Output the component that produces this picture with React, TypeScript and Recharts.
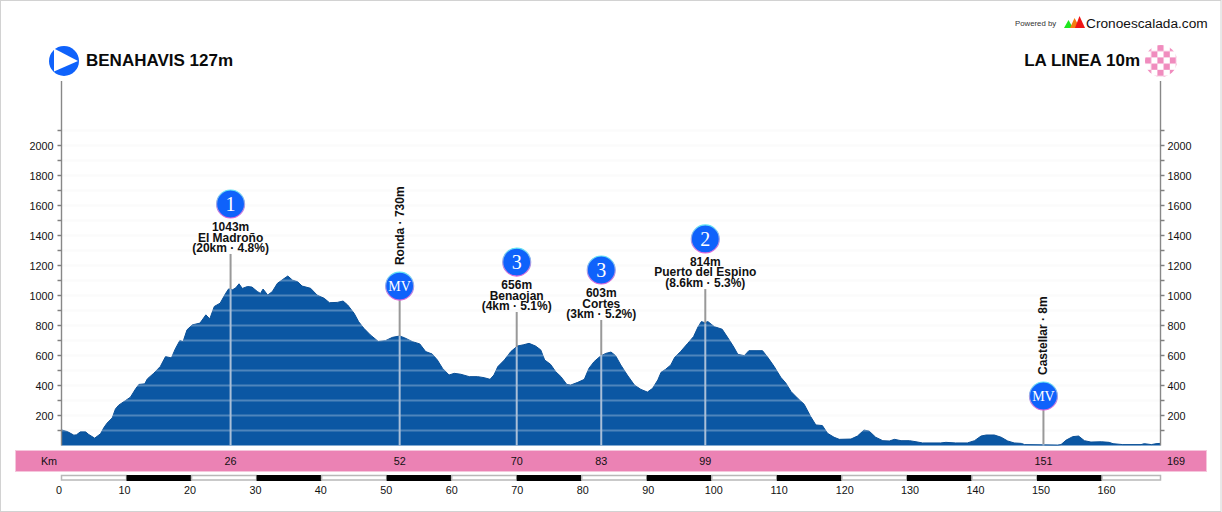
import React from 'react';
import {Area, ComposedChart, CartesianGrid, ReferenceDot, ReferenceLine, XAxis, YAxis} from 'recharts';

// profile
const profileKm = [
  0, 0.9, 1.9, 2.3, 2.9, 3.7, 4.2, 5.1, 6, 6.5, 7, 7.8, 8.3, 8.8, 9.85, 10.6, 11.4, 11.9, 12.8, 13.2,
  14.2, 15.2, 16, 16.9, 17.5, 18.2, 18.7, 19.3, 20.1, 21.3, 22.2, 22.8, 23.5, 24.4, 25.2, 25.7, 26.3, 26.8, 27.3, 27.8,
  28.6, 29.3, 30.1, 30.6, 31, 31.7, 32.4, 33.2, 33.9, 34.8, 35.5, 36.3, 37, 38.3, 39.3, 40.4, 41.2, 42.4, 43.3, 44,
  45, 45.7, 46.5, 47.5, 48.7, 49.8, 50.9, 52, 52.7, 54, 55.1, 56, 57, 57.8, 58.6, 59.6, 60.4, 61.4, 62.7, 64,
  65, 65.9, 66.5, 67.1, 68.1, 69.1, 70.1, 71.1, 71.9, 72.9, 73.7, 74.3, 75.2, 76, 76.8, 77.7, 78.3, 79.4, 80.4, 81.1,
  81.9, 82.9, 83.7, 84.5, 85.2, 86, 87, 88.1, 89.1, 90.1, 90.9, 91.7, 92.2, 92.9, 93.7, 94.3, 95.2, 96.3, 97.2, 97.9,
  98.4, 98.9, 99.4, 100.4, 101.6, 102.7, 103.4, 104, 105, 105.7, 106.8, 107.8, 108.6, 109.6, 110.6, 111.4, 112.2, 113.2, 114.2, 115.2,
  116, 117, 117.8, 118.8, 119.6, 121.4, 122.4, 123.4, 124.2, 125.2, 126.3, 127.3, 128.1, 129.1, 130.4, 131.4, 132.4, 135.2, 136, 137.5,
  139.3, 140.4, 141.4, 142.2, 143.45, 144.5, 145.5, 146.5, 147.6, 148.1, 153.2, 153.7, 154.5, 155.5, 156.4, 157.3, 158.3, 159.9, 161.1, 161.7,
  163.2, 166, 166.5, 167.6, 168.3, 169,
];
const profileElevation = [
  104, 93, 69, 71, 91, 91, 73, 49, 78, 118, 149, 184, 244, 269, 300, 322, 378, 407, 411, 444,
  482, 527, 593, 584, 644, 700, 693, 771, 804, 816, 871, 844, 927, 949, 1011, 1044, 1038, 1051, 1078, 1047,
  1060, 1056, 1027, 1014, 1043, 1003, 1025, 1081, 1103, 1130, 1103, 1092, 1063, 1048, 1003, 981, 952, 954, 963, 937,
  881, 825, 781, 737, 694, 699, 721, 730, 719, 692, 677, 626, 610, 570, 514, 470, 481, 475, 459, 459,
  452, 441, 470, 526, 570, 626, 663, 672, 681, 663, 637, 570, 541, 492, 459, 407, 403, 421, 441, 514,
  559, 597, 614, 623, 599, 537, 470, 403, 374, 356, 381, 437, 488, 508, 537, 588, 626, 681, 726, 792,
  826, 819, 826, 792, 775, 703, 655, 608, 599, 632, 632, 632, 588, 526, 455, 415, 359, 315, 275, 193,
  137, 133, 81, 55, 41, 43, 63, 103, 96, 55, 32, 30, 41, 32, 32, 25, 17, 17, 21, 17,
  17, 32, 63, 70, 70, 55, 30, 17, 14, 6, 3, 6, 36, 59, 63, 32, 23, 25, 21, 12,
  6, 6, 12, 6, 12, 14,
];
const data = profileKm.map((km, i) => ({km, elevation: profileElevation[i]}));

const elevationTicks = [100, 200, 300, 400, 500, 600, 700, 800, 900, 1000, 1100, 1200, 1300, 1400, 1500, 1600, 1700, 1800, 1900, 2000, 2100];
const distanceTicks = [0, 10, 20, 30, 40, 50, 60, 70, 80, 90, 100, 110, 120, 130, 140, 150, 160];
const passKm = [26, 52, 70, 83, 99, 151];
const passElevation = [1043, 730, 656, 603, 814, 8];
const passBadge = ['1', 'MV', '3', '3', '2', 'MV'];
const passNames = ['El Madroño', 'Ronda', 'Benaojan', 'Cortes', 'Puerto del Espino', 'Castellar'];
const passClimbs = ['(20km · 4.8%)', '', '(4km · 5.1%)', '(3km · 5.2%)', '(8.6km · 5.3%)', ''];

// where the badge and the top of each stem sit, in chart units
const badgeLevel = [1610, 1063, 1223, 1170, 1377, 330];
const stemTop = [1277, 1063, 890, 837, 1043, 330];

const FONT = '"Liberation Sans", Arial, sans-serif';
const SERIF = '"Liberation Serif", "Times New Roman", serif';
const KM_PX = 1099 / 169;
const TICK_FONT = 10.8;

const LeftTick = ({x, y, payload}: any) =>
  payload.value % 200 === 0 && payload.value <= 2000 ? (
    <text x={x - 2} y={y + 4} textAnchor="end" fontSize={TICK_FONT} fontFamily={FONT} fill="#111">{payload.value}</text>
  ) : <g />;

const RightTick = ({x, y, payload}: any) =>
  payload.value % 200 === 0 && payload.value <= 2000 ? (
    <text x={x + 1} y={y + 4} textAnchor="start" fontSize={TICK_FONT} fontFamily={FONT} fill="#111">{payload.value}</text>
  ) : <g />;

const BandTick = ({x, payload}: any) => (
  <text x={payload.value === 169 ? x + 15.5 : x} y={465} textAnchor="middle" fontSize={TICK_FONT} fontFamily={FONT} fill="#111">
    {payload.value}
  </text>
);

// the scale bar under the band: one block per tick
const ScaleTick = ({x, payload}: any) => {
  const km = payload.value;
  const black = km % 20 === 10;
  const width = (km === 160 ? 9 : 10) * KM_PX;
  return (
    <g>
      {black
        ? <rect x={x} y={475} width={width} height={6} fill="#000" />
        : <rect x={x} y={475.5} width={width} height={4.5} fill="#fff" stroke="#b8b8b8" strokeWidth={1.5} />}
      <text x={x - 2.5 + km * 0.044} y={494} textAnchor="middle" fontSize={TICK_FONT} fontFamily={FONT} fill="#111">{km}</text>
    </g>
  );
};

const Badge = ({cx, cy, index}: any) => {
  const isSprint = passBadge[index] === 'MV';
  return (
    <g>
      <circle cx={cx} cy={cy} r={14} fill="#0f62fb" stroke="url(#badgeRing)" strokeWidth={1.2} />
      <text x={cx} y={cy + (isSprint ? 5 : 7)} textAnchor="middle" fontFamily={SERIF} fontSize={isSprint ? 14 : 20} fill="#fff">
        {passBadge[index]}
      </text>
      {isSprint ? (
        <text
          transform={`translate(${cx + 4} ${cy - 21}) rotate(-90)`}
          fontFamily={FONT} fontWeight="bold" fontSize={12} fill="#111"
        >
          {`${passNames[index]} · ${passElevation[index]}m`}
        </text>
      ) : (
        <text textAnchor="middle" fontFamily={FONT} fontWeight="bold" fontSize={12} fill="#111">
          <tspan x={cx} y={cy + 27}>{passElevation[index]}m</tspan>
          <tspan x={cx} y={cy + 37.5}>{passNames[index]}</tspan>
          <tspan x={cx} y={cy + 48}>{passClimbs[index]}</tspan>
        </text>
      )}
    </g>
  );
};

export default function App() {
  return (
    <div style={{position: 'absolute', left: 0, top: 0, width: 1222, height: 512, boxSizing: 'border-box', background: '#fff'}}>
      <ComposedChart width={1222} height={512} data={data} margin={{top: 81, right: 0, bottom: 0, left: 0}}>
        <defs>
          <linearGradient id="badgeRing" x1="0" y1="0" x2="0" y2="1">
            <stop offset="0" stopColor="#5fe6f5" />
            <stop offset="1" stopColor="#e060d8" />
          </linearGradient>
          <pattern id="finishCheck" x={1145} y={45} width={12.4} height={12.4} patternUnits="userSpaceOnUse">
            <rect width={6.2} height={6.2} fill="#f08cbe" />
            <rect x={6.2} y={6.2} width={6.2} height={6.2} fill="#f08cbe" />
          </pattern>
        </defs>

        <rect x={0.5} y={0.5} width={1220.5} height={511} fill="none" stroke="#d2d2d2" />

        <CartesianGrid horizontal vertical={false} horizontalValues={elevationTicks} stroke="#fafafa" strokeWidth={2} yAxisId="left" />

        <XAxis dataKey="km" type="number" domain={[0, 169]} hide />
        <XAxis
          xAxisId="band" dataKey="km" type="number" domain={[0, 169]} ticks={passKm.concat(169)} interval={0}
          height={25.5} axisLine={false} tickLine={false} tick={BandTick}
        />
        <XAxis
          xAxisId="scale" dataKey="km" type="number" domain={[0, 169]} ticks={distanceTicks} interval={0}
          height={41} axisLine={false} tickLine={false} tick={ScaleTick}
        />
        <YAxis
          yAxisId="left" width={61.5} domain={[0, 2430]} ticks={elevationTicks} interval={0}
          axisLine={{stroke: '#888', strokeWidth: 1.4}} tickLine={{stroke: '#808080', strokeWidth: 1.5}} tickSize={4} tick={LeftTick}
        />
        <YAxis
          yAxisId="right" orientation="right" width={61.5} domain={[0, 2430]} ticks={elevationTicks} interval={0}
          axisLine={{stroke: '#888', strokeWidth: 1.4}} tickLine={{stroke: '#808080', strokeWidth: 1.5}} tickSize={4} tick={RightTick}
        />

        {/* keeps the right axis bound to a series, otherwise it draws no ticks */}
        <Area
          yAxisId="right" dataKey="elevation" type="linear" fill="none" stroke="none"
          dot={false} activeDot={false} isAnimationActive={false}
        />
        <Area
          yAxisId="left" dataKey="elevation" type="linear" fill="#0b57a3" fillOpacity={1}
          stroke="#0a4f96" strokeWidth={1} dot={false} activeDot={false} isAnimationActive={false}
        />

        {elevationTicks.map((level) => (
          <ReferenceLine key={level} yAxisId="left" y={level} stroke="#fff" strokeOpacity={0.28} strokeWidth={2} />
        ))}

        {passKm.map((km, i) => (
          <ReferenceLine
            key={`stem-${km}`} yAxisId="left"
            segment={[{x: km, y: passElevation[i]}, {x: km, y: stemTop[i]}]}
            stroke="#999" strokeWidth={2}
          />
        ))}
        {passKm.map((km, i) => (
          <ReferenceLine
            key={`stem-low-${km}`} yAxisId="left"
            segment={[{x: km, y: 0}, {x: km, y: passElevation[i]}]}
            stroke="#a9bfd8" strokeWidth={2}
          />
        ))}
        {passKm.map((km, i) => (
          <ReferenceDot
            key={`badge-${km}`} yAxisId="left" x={km} y={badgeLevel[i]} r={14}
            shape={(props: any) => <Badge {...props} index={i} />}
          />
        ))}

        {/* header and band */}
        <circle cx={64} cy={61} r={15} fill="#0f62fb" />
        <polygon points="54,48.5 78,61 54,71.5" fill="#fff" />
        <text x={86} y={65.5} fontFamily={FONT} fontWeight="bold" fontSize={17} fill="#0a0a0a">BENAHAVIS 127m</text>
        <text x={1140} y={65.5} textAnchor="end" fontFamily={FONT} fontWeight="bold" fontSize={17} fill="#0a0a0a">LA LINEA 10m</text>
        <circle cx={1161} cy={61} r={16} fill="#fff" />
        <circle cx={1161} cy={61} r={16} fill="url(#finishCheck)" />

        <text x={1015} y={26} fontFamily={FONT} fontSize={7.8} fill="#333">Powered by</text>
        <polygon points="1064,28 1068.5,20 1073,28" fill="#1ee61e" />
        <polygon points="1070,28 1074.5,18 1080,28" fill="#f47c10" />
        <polygon points="1075,28 1079.5,16 1085,28" fill="#f01414" />
        <text x={1086} y={28} fontFamily={FONT} fontSize={13.7} fill="#111">Cronoescalada.com</text>

        <rect x={15.5} y={450.5} width={1191} height={21} fill="#eb82b4" stroke="#f5c6dc" />
        <text x={49} y={465} textAnchor="middle" fontSize={TICK_FONT} fontFamily={FONT} fill="#111">Km</text>
      </ComposedChart>
    </div>
  );
}
